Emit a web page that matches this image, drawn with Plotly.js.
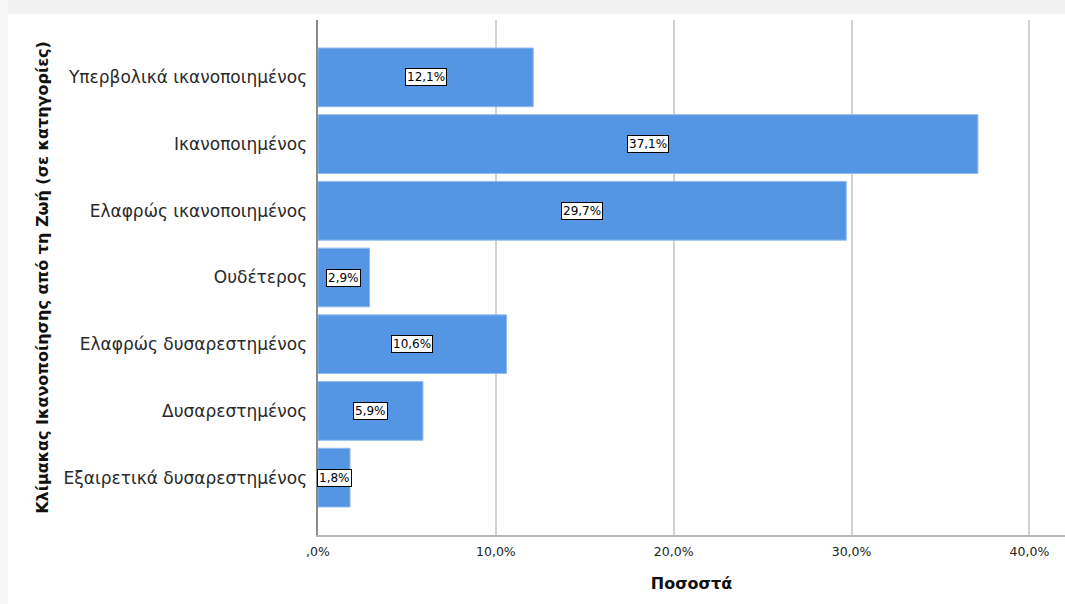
<!DOCTYPE html>
<html><head><meta charset="utf-8">
<script src="https://cdn.plot.ly/plotly-3.0.1.min.js"></script>
<style>html,body{margin:0;padding:0;background:#fff}</style>
</head><body>
<div id="chart" style="width:1065px;height:604px"></div>
<script>
const categories = ["Υπερβολικά ικανοποιημένος","Ικανοποιημένος","Ελαφρώς ικανοποιημένος","Ουδέτερος","Ελαφρώς δυσαρεστημένος","Δυσαρεστημένος","Εξαιρετικά δυσαρεστημένος"];
const percents = [12.1, 37.1, 29.7, 2.9, 10.6, 5.9, 1.8];
const tickVals = [0, 10, 20, 30, 40];
const tickText = [",0%", "10,0%", "20,0%", "30,0%", "40,0%"];
const labelText = percents.map(v => v.toFixed(1).replace('.', ',') + '%');

const font = "DejaVu Sans, Verdana, sans-serif";
const trace = {
  type: 'bar', orientation: 'h',
  x: percents, y: categories,
  marker: {color: '#5596E4', line: {color: '#8DB9EE', width: 1}},
  width: 0.88, hoverinfo: 'none'
};
const annotations = percents.map((v, i) => ({
  x: v / 2, y: categories[i], xref: 'x', yref: 'y',
  text: labelText[i], showarrow: false,
  bgcolor: '#ffffff', bordercolor: '#000000', borderwidth: 1, borderpad: 1,
  font: {family: font, size: 12, color: '#000'}
}));
const layout = {
  width: 1065, height: 604,
  margin: {l: 318, r: 0, t: 20, b: 69},
  paper_bgcolor: '#ffffff', plot_bgcolor: '#ffffff',
  showlegend: false,
  bargap: 0.12,
  xaxis: {
    range: [0, 42], tickvals: tickVals, ticktext: tickText,
    showgrid: true, gridcolor: '#d2d2d2', gridwidth: 2,
    zeroline: false, showline: true, linecolor: '#b8b8b8', linewidth: 2,
    ticks: '', ticklen: 0, ticklabelstandoff: 4,
    tickfont: {family: font, size: 12.5, color: '#222'},
    title: {text: 'Ποσοστά', font: {family: font, size: 16, color: '#111', weight: 'bold'}, standoff: 20},
    fixedrange: true
  },
  yaxis: {
    type: 'category', categoryorder: 'array', categoryarray: categories,
    range: [6.86, -0.86],
    showgrid: false, zeroline: false,
    showline: true, linecolor: '#8a8a8a', linewidth: 2,
    ticks: '', ticksuffix: ' ',
    tickfont: {family: font, size: 17, color: '#2a2a2a'},
    title: {text: 'Κλίμακας Ικανοποίησης από τη Ζωή (σε κατηγορίες)', font: {family: font, size: 16, color: '#111', weight: 'bold'}, standoff: 11},
    fixedrange: true
  },
  annotations: annotations,
  shapes: [
    {type: 'rect', xref: 'paper', yref: 'paper', x0: -0.5, x1: 1.1, y0: 1 + 6/515, y1: 1 + 21/515, fillcolor: '#f1f1f1', line: {width: 0}, layer: 'below'},
    {type: 'rect', xref: 'paper', yref: 'paper', x0: -318/747, x1: -310/747, y0: -0.2, y1: 1.1, fillcolor: '#f6f6f6', line: {width: 0}, layer: 'below'}
  ]
};
Plotly.newPlot('chart', [trace], layout, {displayModeBar: false, staticPlot: true});
</script>
</body></html>
